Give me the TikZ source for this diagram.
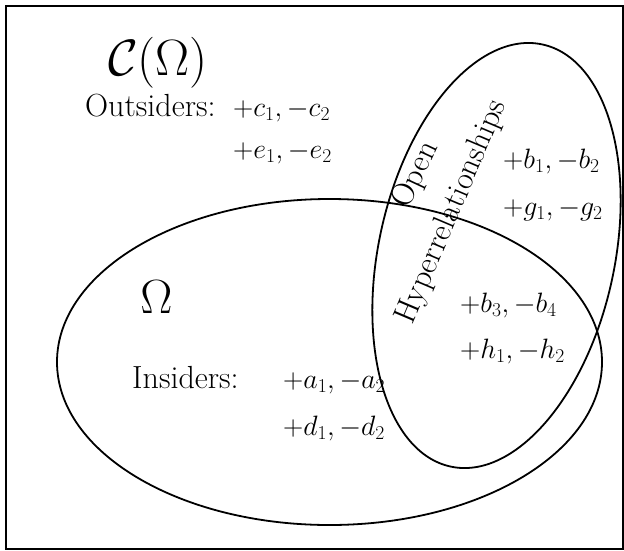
\RequirePackage{fix-cm}
\documentclass[tikz,border=0pt]{standalone}
\usetikzlibrary{shapes.geometric}
\begin{document}
\begin{tikzpicture}[x=1pt,y=-1pt,
  txt/.style={inner sep=0pt, font=\fontsize{28}{34}\selectfont},
  wordtxt/.style={inner sep=0pt, font=\fontsize{32}{38}\selectfont},
  bigsym/.style={inner sep=0pt, font=\fontsize{48}{56}\selectfont},
  setline/.style={draw=black, line width=1.8pt},
  frameline/.style={draw=black, line width=1.8pt}]
\useasboundingbox (0,0) rectangle (624,550);
\draw[frameline] (6,6) rectangle (623,549);
% big ellipse Omega
\node[setline, ellipse, inner sep=0pt, outer sep=0pt, minimum width=545pt, minimum height=326pt] (omegaset) at (329.5,362) {};
% tilted ellipse open hyperrelationships
\node[setline, ellipse, inner sep=0pt, outer sep=0pt, rotate=77.7, minimum width=432pt, minimum height=236pt] (openset) at (496.5,255.5) {};
% labels
\node[bigsym, font=\fontsize{51}{58}\selectfont, anchor=base] (cOmega) at (158,75) {$\mathcal{C}(\Omega)$};
\node[bigsym, anchor=base] (Omega) at (156.5,313) {$\Omega$};
\node[wordtxt, anchor=base west] (outsiders) at (85,116) {Outsiders:};
\node[txt, anchor=base west] (cpair) at (233,116) {$+c_1,-c_2$};
\node[txt, anchor=base west] (epair) at (233,158) {$+e_1,-e_2$};
\node[wordtxt, anchor=base west] (insiders) at (132,388) {Insiders:};
\node[txt, anchor=base west] (apair) at (283,388) {$+a_1,-a_2$};
\node[txt, anchor=base west] (dpair) at (283,435) {$+d_1,-d_2$};
\node[txt, anchor=base west] (bpairA) at (503,168) {$+b_1,-b_2$};
\node[txt, anchor=base west] (gpair) at (503,215) {$+g_1,-g_2$};
\node[txt, anchor=base west] (bpairB) at (460,312) {$+b_3,-b_4$};
\node[txt, anchor=base west] (hpair) at (460,358) {$+h_1,-h_2$};
\node[wordtxt, rotate=65] (openlbl) at (416,175) {Open};
\node[wordtxt, rotate=67] (hyperlbl) at (452,212) {Hyperrelationships};
\end{tikzpicture}
\end{document}
